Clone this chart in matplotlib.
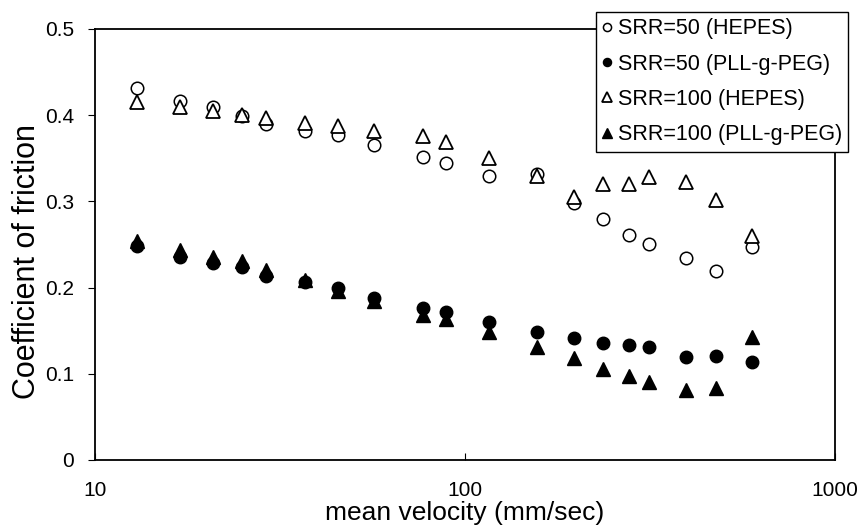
import numpy as np
import matplotlib.pyplot as plt
from matplotlib.ticker import FixedLocator, NullLocator, FuncFormatter

plt.rcParams['font.family'] = ['Liberation Sans', 'DejaVu Sans']

# mean velocity (mm/sec)
velocity = [13.0, 17.0, 20.9, 25.0, 28.9, 36.9, 45.4, 56.8, 76.9, 88.9,
            116, 157, 197, 236, 277, 315, 396, 477, 597]

srr50_hepes = [0.431, 0.417, 0.409, 0.399, 0.390, 0.382, 0.377, 0.365, 0.351, 0.344,
               0.329, 0.332, 0.298, 0.279, 0.261, 0.250, 0.234, 0.219, 0.247]
srr50_pll = [0.248, 0.235, 0.228, 0.224, 0.214, 0.206, 0.199, 0.188, 0.176, 0.172,
             0.160, 0.148, 0.141, 0.136, 0.133, 0.131, 0.120, 0.121, 0.114]
srr100_hepes = [0.415, 0.410, 0.405, 0.400, 0.397, 0.391, 0.387, 0.382, 0.376, 0.369,
                0.350, 0.330, 0.305, 0.320, 0.320, 0.328, 0.323, 0.302, 0.260]
srr100_pll = [0.254, 0.244, 0.236, 0.231, 0.220, 0.209, 0.196, 0.184, 0.168, 0.164,
              0.148, 0.131, 0.118, 0.106, 0.097, 0.090, 0.081, 0.084, 0.143]

fig = plt.figure(figsize=(8.62, 5.30), dpi=100)
ax = fig.add_axes([0.1102, 0.1321, 0.8585, 0.8132])

ax.plot(velocity, srr50_hepes, 'o', ms=9, mfc='white', mec='black', mew=1.1,
        label='SRR=50 (HEPES)')
ax.plot(velocity, srr50_pll, 'o', ms=9, mfc='black', mec='black',
        label='SRR=50 (PLL-g-PEG)')
ax.plot(velocity, srr100_hepes, '^', ms=10.5, mfc='white', mec='black', mew=1.3,
        label='SRR=100 (HEPES)')
ax.plot(velocity, srr100_pll, '^', ms=10.5, mfc='black', mec='black',
        label='SRR=100 (PLL-g-PEG)')

ax.set_xscale('log')
ax.set_xlim(10, 1000)
ax.set_ylim(0, 0.5)
ax.xaxis.set_major_locator(FixedLocator([10, 100, 1000]))
ax.xaxis.set_minor_locator(NullLocator())
ax.xaxis.set_major_formatter(FuncFormatter(lambda v, p: '%d' % v))
ax.set_yticks([0, 0.1, 0.2, 0.3, 0.4, 0.5])
ax.yaxis.set_major_formatter(FuncFormatter(lambda v, p: '0' if v == 0 else '%.1f' % v))

ax.tick_params(axis='x', direction='in', length=5, width=0.8, pad=15, labelsize=15)
ax.tick_params(axis='y', direction='out', length=5, width=0.8, pad=10, labelsize=15)
for s in ax.spines.values():
    s.set_linewidth(1.3)

ax.set_xlabel('mean velocity (mm/sec)', fontsize=19, labelpad=1)
ax.set_ylabel('Coefficient of friction', fontsize=22)
ax.yaxis.set_label_coords(-0.072, 0.46)

leg = fig.legend(loc='upper left', bbox_to_anchor=(0.6914, 0.9774),
                 bbox_transform=fig.transFigure, borderaxespad=0,
                 fontsize=15.5, markerscale=0.65, handlelength=0.45,
                 handletextpad=0.25, labelspacing=0.66, borderpad=0.3,
                 frameon=True, fancybox=False, framealpha=1)
leg.get_frame().set_edgecolor('black')
leg.get_frame().set_linewidth(1.0)

fig.savefig('out.png', dpi=100)
